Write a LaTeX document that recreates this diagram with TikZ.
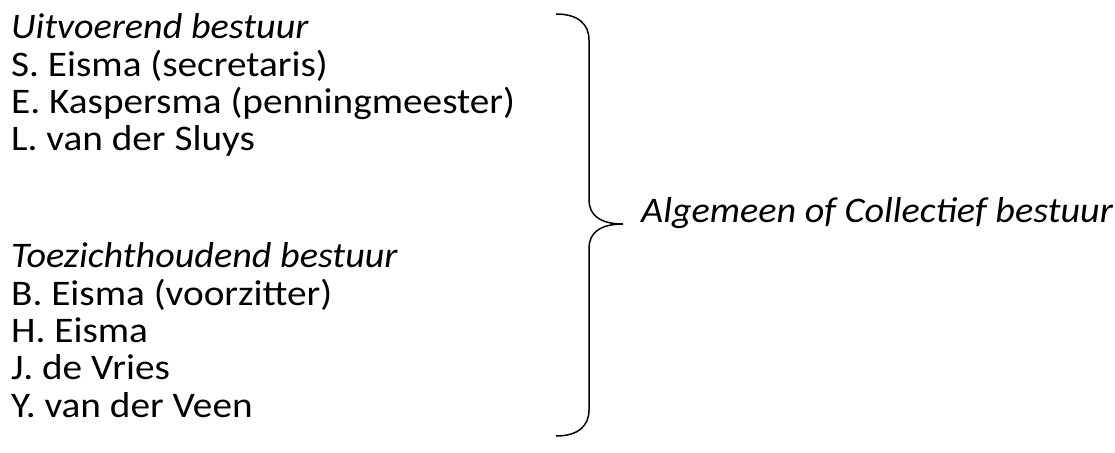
\documentclass[tikz,border=0pt]{standalone}
\usepackage{fontspec}
\setmainfont[FakeStretch=1.09,ItalicFeatures={FakeStretch=1.06}]{Carlito}
\begin{document}
\begin{tikzpicture}[x=1pt,y=-1pt,
  line/.style={font=\fontsize{36}{40}\selectfont,anchor=base west,inner sep=0pt},
  head/.style={line,font=\fontsize{36}{40}\selectfont\itshape},
  bracepath/.style={line width=1.5pt}]
\useasboundingbox (0,0) rectangle (1115,452);
\node[head] (t1) at (11,38) {Uitvoerend bestuur};
\node[line] (a1) at (11,76) {S. Eisma (secretaris)};
\node[line] (a2) at (11,113) {E. Kaspersma (penningmeester)};
\node[line] (a3) at (11,150) {L. van der Sluys};
\node[head] (t2) at (11,267) {Toezichthoudend bestuur};
\node[line] (b1) at (11,305) {B. Eisma (voorzitter)};
\node[line] (b2) at (11,342) {H. Eisma};
\node[line] (b3) at (11,379) {J. de Vries};
\node[line] (b4) at (11,417) {Y. van der Veen};
\coordinate (top) at (556,14);
\coordinate (tip) at (623,224);
\coordinate (bot) at (556,436);
\draw[bracepath] (top) .. controls (578,14) and (589,24) .. (589,40)
  -- (589,200) .. controls (589,215) and (600,224) .. (tip)
  .. controls (600,224) and (589,233) .. (589,248)
  -- (589,410) .. controls (589,426) and (578,436) .. (bot);
\node[head] (lab) at (641,222) {Algemeen of Collectief bestuur};
\end{tikzpicture}
\end{document}
